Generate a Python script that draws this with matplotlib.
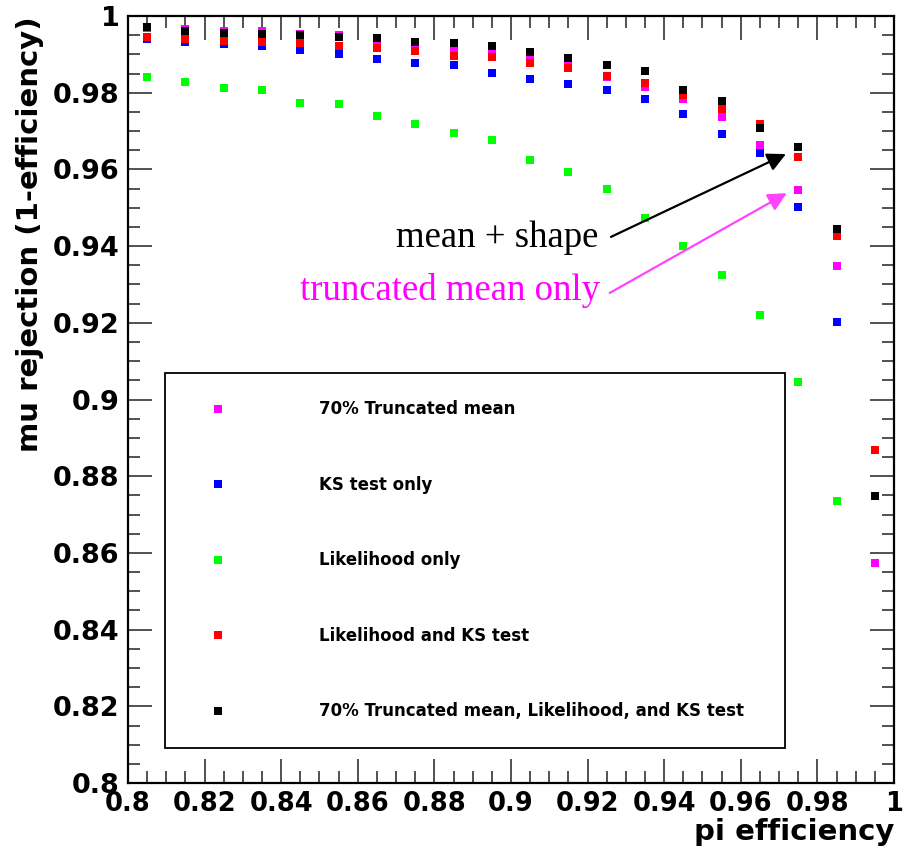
import numpy as np
import matplotlib
matplotlib.use("Agg")
from matplotlib import pyplot as plt
from matplotlib.ticker import MultipleLocator, FormatStrFormatter

# pi efficiency bins
pi_eff = [0.805, 0.815, 0.825, 0.835, 0.845, 0.855, 0.865, 0.875, 0.885, 0.895,
          0.905, 0.915, 0.925, 0.935, 0.945, 0.955, 0.965, 0.975, 0.985, 0.995]

# mu rejection for each method
trunc_mean = [0.9970, 0.9965, 0.9962, 0.9961, 0.9952, 0.9951, 0.9938, 0.9929, 0.9913, 0.9909,
              0.9892, 0.9875, 0.9842, 0.9814, 0.9784, 0.9736, 0.9663, 0.9545, 0.9348, 0.8574]
ks_only = [0.9939, 0.9932, 0.9927, 0.9923, 0.9911, 0.9900, 0.9888, 0.9877, 0.9872, 0.9851,
           0.9836, 0.9822, 0.9807, 0.9784, 0.9744, 0.9692, 0.9644, 0.9501, 0.9201, np.nan]
lik_only = [0.9841, 0.9829, 0.9811, 0.9806, 0.9772, 0.9770, 0.9740, 0.9719, 0.9694, 0.9677,
            0.9625, 0.9594, 0.9550, 0.9472, 0.9401, 0.9325, 0.9220, 0.9046, 0.8735, np.nan]
lik_ks = [0.9944, 0.9939, 0.9936, 0.9932, 0.9930, 0.9922, 0.9916, 0.9910, 0.9896, 0.9892,
          0.9877, 0.9864, 0.9844, 0.9826, 0.9794, 0.9758, 0.9718, 0.9632, 0.9426, 0.8869]
all_three = [0.9971, 0.9961, 0.9955, 0.9953, 0.9951, 0.9946, 0.9943, 0.9933, 0.9929, 0.9922,
             0.9907, 0.9890, 0.9872, 0.9857, 0.9807, 0.9778, 0.9707, 0.9658, 0.9444, 0.8748]

labels = ['70% Truncated mean', 'KS test only', 'Likelihood only',
          'Likelihood and KS test', '70% Truncated mean, Likelihood, and KS test']
colors = ['#ff00ff', '#0000ff', '#00ff00', '#ff0000', '#000000']
series = [trunc_mean, ks_only, lik_only, lik_ks, all_three]

fig = plt.figure(figsize=(9.04, 8.6), dpi=100)
ax = fig.add_axes([0.1416, 0.0895, 0.8473, 0.8919])

handles = []
for vals, col, lab in zip(series, colors, labels):
    h, = ax.plot(pi_eff, vals, 's', color=col, markersize=5.4, markeredgewidth=0, label=lab)
    handles.append(h)

ax.set_xlim(0.8, 1.0)
ax.set_ylim(0.8, 1.0)

# ROOT style axes: inward ticks on all four sides
ax.xaxis.set_major_locator(MultipleLocator(0.02))
ax.xaxis.set_minor_locator(MultipleLocator(0.005))
ax.yaxis.set_major_locator(MultipleLocator(0.02))
ax.yaxis.set_minor_locator(MultipleLocator(0.005))
ax.xaxis.set_major_formatter(FormatStrFormatter('%g'))
ax.yaxis.set_major_formatter(FormatStrFormatter('%g'))
ax.tick_params(which='both', direction='in', top=True, right=True, width=1.1, color='#222222')
ax.tick_params(which='major', length=17)
ax.tick_params(which='minor', length=8.5)
ax.tick_params(axis='x', which='major', pad=6, labelsize=18.5)
ax.tick_params(axis='y', which='major', pad=6, labelsize=19.5)
for lbl in ax.get_xticklabels() + ax.get_yticklabels():
    lbl.set_fontweight('bold')
for sp in ax.spines.values():
    sp.set_linewidth(1.6)

ax.set_xlabel('pi efficiency', fontsize=21, fontweight='bold', loc='right')
ax.set_ylabel('mu rejection (1-efficiency)', fontsize=21, fontweight='bold', loc='top')
ax.xaxis.set_label_coords(1.0, -0.046)
ax.yaxis.set_label_coords(-0.11, 1.0)

# arrows pointing at the 0.975 bin
ax.annotate('', xy=(0.9718, 0.9640), xytext=(0.9261, 0.9424),
            arrowprops=dict(arrowstyle='-|>', color='black', lw=1.6,
                            mutation_scale=28, shrinkA=0, shrinkB=0))
ax.annotate('', xy=(0.9720, 0.9538), xytext=(0.9258, 0.9278),
            arrowprops=dict(arrowstyle='-|>', color='#ff44ff', lw=1.6,
                            mutation_scale=28, shrinkA=0, shrinkB=0))
ax.text(0.9227, 0.9398, 'mean + shape', family='Liberation Serif', fontsize=26.5,
        color='black', ha='right', va='baseline')
ax.text(0.9232, 0.9260, 'truncated mean only', family='Liberation Serif', fontsize=26.5,
        color='#ff00ff', ha='right', va='baseline')

leg = ax.legend(handles=handles, loc='upper left',
                bbox_to_anchor=(0.0483, 0.5346, 0.8094, 0.0), mode='expand',
                prop={'weight': 'bold', 'size': 12}, labelspacing=3.45, borderpad=1.65,
                handlelength=3.0, handletextpad=4.6, fancybox=False, framealpha=1,
                edgecolor='black', borderaxespad=0, markerscale=1.0)
leg.get_frame().set_linewidth(1.3)

fig.savefig('out.png', dpi=100)
